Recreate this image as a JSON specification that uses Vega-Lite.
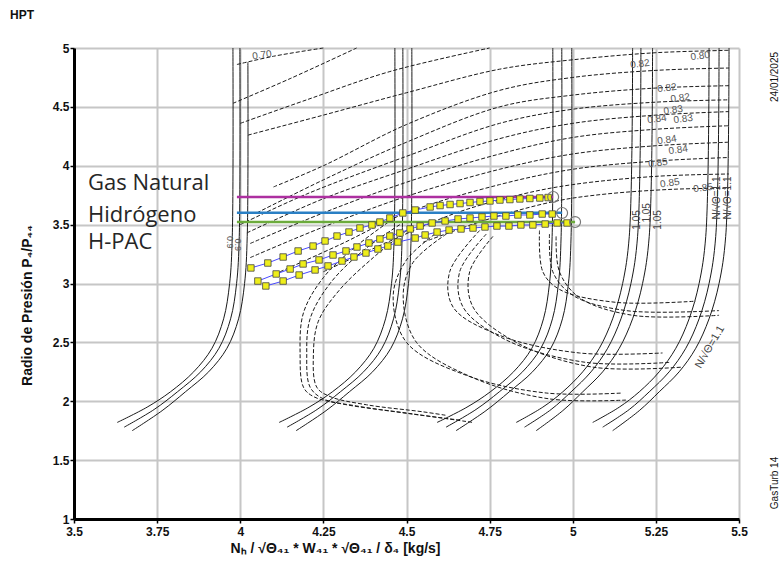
{
"$schema": "https://vega.github.io/schema/vega-lite/v6.json",
"width": 665, "height": 471,
"autosize": {"type": "none"},
"padding": {"left": 74, "top": 48, "right": 42, "bottom": 45},
"background": "white",
"title": {"text": "HPT", "anchor": "start", "frame": "group", "dx": -64, "offset": 20, "fontSize": 12, "fontWeight": "bold", "font": "Liberation Sans", "color": "#111"},
"config": {"view": {"stroke": null}, "font": "Liberation Sans"},
"datasets": {
"speed": [
{"g":"A1","x":3.978,"y":5},{"g":"A1","x":3.976,"y":3.4},{"g":"A1","x":3.968,"y":3.0},{"g":"A1","x":3.95,"y":2.7},{"g":"A1","x":3.915,"y":2.45},{"g":"A1","x":3.86,"y":2.25},{"g":"A1","x":3.79,"y":2.08},{"g":"A1","x":3.72,"y":1.95},{"g":"A1","x":3.63,"y":1.82},
{"g":"A2","x":3.999,"y":5},{"g":"A2","x":3.997,"y":3.4},{"g":"A2","x":3.989,"y":3.0},{"g":"A2","x":3.971,"y":2.7},{"g":"A2","x":3.936,"y":2.45},{"g":"A2","x":3.881,"y":2.25},{"g":"A2","x":3.811,"y":2.08},{"g":"A2","x":3.741,"y":1.93},{"g":"A2","x":3.651,"y":1.78},
{"g":"A3","x":4.023,"y":4.88},{"g":"A3","x":4.021,"y":3.4},{"g":"A3","x":4.013,"y":3.0},{"g":"A3","x":3.995,"y":2.7},{"g":"A3","x":3.96,"y":2.45},{"g":"A3","x":3.905,"y":2.25},{"g":"A3","x":3.835,"y":2.08},{"g":"A3","x":3.765,"y":1.92},{"g":"A3","x":3.675,"y":1.75},
{"g":"B1","x":4.465,"y":5},{"g":"B1","x":4.463,"y":3.4},{"g":"B1","x":4.455,"y":3.0},{"g":"B1","x":4.437,"y":2.7},{"g":"B1","x":4.402,"y":2.45},{"g":"B1","x":4.347,"y":2.25},{"g":"B1","x":4.277,"y":2.08},{"g":"B1","x":4.207,"y":1.95},{"g":"B1","x":4.117,"y":1.82},
{"g":"B2","x":4.489,"y":5},{"g":"B2","x":4.487,"y":3.4},{"g":"B2","x":4.479,"y":3.0},{"g":"B2","x":4.461,"y":2.7},{"g":"B2","x":4.426,"y":2.45},{"g":"B2","x":4.371,"y":2.25},{"g":"B2","x":4.301,"y":2.08},{"g":"B2","x":4.231,"y":1.93},{"g":"B2","x":4.141,"y":1.78},
{"g":"B3","x":4.516,"y":5},{"g":"B3","x":4.514,"y":3.4},{"g":"B3","x":4.506,"y":3.0},{"g":"B3","x":4.488,"y":2.7},{"g":"B3","x":4.453,"y":2.45},{"g":"B3","x":4.398,"y":2.25},{"g":"B3","x":4.328,"y":2.08},{"g":"B3","x":4.258,"y":1.92},{"g":"B3","x":4.168,"y":1.75},
{"g":"C1","x":4.94,"y":5},{"g":"C1","x":4.938,"y":3.4},{"g":"C1","x":4.93,"y":3.0},{"g":"C1","x":4.912,"y":2.7},{"g":"C1","x":4.877,"y":2.45},{"g":"C1","x":4.822,"y":2.25},{"g":"C1","x":4.752,"y":2.08},{"g":"C1","x":4.682,"y":1.95},{"g":"C1","x":4.592,"y":1.82},
{"g":"C2","x":4.967,"y":5},{"g":"C2","x":4.965,"y":3.4},{"g":"C2","x":4.957,"y":3.0},{"g":"C2","x":4.939,"y":2.7},{"g":"C2","x":4.904,"y":2.45},{"g":"C2","x":4.849,"y":2.25},{"g":"C2","x":4.779,"y":2.08},{"g":"C2","x":4.709,"y":1.93},{"g":"C2","x":4.619,"y":1.78},
{"g":"C3","x":4.997,"y":5},{"g":"C3","x":4.995,"y":3.4},{"g":"C3","x":4.987,"y":3.0},{"g":"C3","x":4.969,"y":2.7},{"g":"C3","x":4.934,"y":2.45},{"g":"C3","x":4.879,"y":2.25},{"g":"C3","x":4.809,"y":2.08},{"g":"C3","x":4.739,"y":1.92},{"g":"C3","x":4.649,"y":1.75},
{"g":"D1","x":5.18,"y":5},{"g":"D1","x":5.17,"y":3.4},{"g":"D1","x":5.15,"y":3.0},{"g":"D1","x":5.12,"y":2.7},{"g":"D1","x":5.08,"y":2.45},{"g":"D1","x":5.03,"y":2.25},{"g":"D1","x":4.97,"y":2.08},{"g":"D1","x":4.91,"y":1.95},{"g":"D1","x":4.83,"y":1.82},
{"g":"D2","x":5.205,"y":5},{"g":"D2","x":5.195,"y":3.4},{"g":"D2","x":5.175,"y":3.0},{"g":"D2","x":5.145,"y":2.7},{"g":"D2","x":5.105,"y":2.45},{"g":"D2","x":5.055,"y":2.25},{"g":"D2","x":4.995,"y":2.08},{"g":"D2","x":4.935,"y":1.93},{"g":"D2","x":4.855,"y":1.78},
{"g":"D3","x":5.24,"y":5},{"g":"D3","x":5.23,"y":3.4},{"g":"D3","x":5.21,"y":3.0},{"g":"D3","x":5.18,"y":2.7},{"g":"D3","x":5.14,"y":2.45},{"g":"D3","x":5.09,"y":2.25},{"g":"D3","x":5.03,"y":2.08},{"g":"D3","x":4.97,"y":1.92},{"g":"D3","x":4.89,"y":1.75},
{"g":"E1","x":5.41,"y":5},{"g":"E1","x":5.40,"y":3.4},{"g":"E1","x":5.38,"y":3.0},{"g":"E1","x":5.35,"y":2.7},{"g":"E1","x":5.31,"y":2.45},{"g":"E1","x":5.26,"y":2.25},{"g":"E1","x":5.20,"y":2.08},{"g":"E1","x":5.14,"y":1.95},{"g":"E1","x":5.06,"y":1.82},
{"g":"E2","x":5.44,"y":5},{"g":"E2","x":5.43,"y":3.4},{"g":"E2","x":5.41,"y":3.0},{"g":"E2","x":5.38,"y":2.7},{"g":"E2","x":5.34,"y":2.45},{"g":"E2","x":5.29,"y":2.25},{"g":"E2","x":5.23,"y":2.08},{"g":"E2","x":5.17,"y":1.93},{"g":"E2","x":5.09,"y":1.78},
{"g":"E3","x":5.47,"y":5},{"g":"E3","x":5.46,"y":3.4},{"g":"E3","x":5.44,"y":3.0},{"g":"E3","x":5.41,"y":2.7},{"g":"E3","x":5.37,"y":2.45},{"g":"E3","x":5.32,"y":2.25},{"g":"E3","x":5.26,"y":2.08},{"g":"E3","x":5.20,"y":1.92},{"g":"E3","x":5.12,"y":1.75}
],
"dash": [
{"g":"e1","x":3.99,"y":4.86},{"g":"e1","x":4.1,"y":4.93},{"g":"e1","x":4.25,"y":5.0},
{"g":"e2","x":3.978,"y":4.53},{"g":"e2","x":4.15,"y":4.74},{"g":"e2","x":4.35,"y":5.0},
{"g":"e3","x":4.0,"y":4.36},{"g":"e3","x":4.2,"y":4.56},{"g":"e3","x":4.45,"y":4.8},{"g":"e3","x":4.75,"y":5.0},
{"g":"e4","x":4.023,"y":4.26},{"g":"e4","x":4.25,"y":4.43},{"g":"e4","x":4.5,"y":4.62},{"g":"e4","x":4.78,"y":4.82},{"g":"e4","x":5.0,"y":4.9},{"g":"e4","x":5.25,"y":4.96},{"g":"e4","x":5.47,"y":4.98},
{"g":"e5","x":4.1,"y":3.82},{"g":"e5","x":4.25,"y":4.0},{"g":"e5","x":4.5,"y":4.35},{"g":"e5","x":4.78,"y":4.64},{"g":"e5","x":5.0,"y":4.75},{"g":"e5","x":5.25,"y":4.81},{"g":"e5","x":5.47,"y":4.83},
{"g":"e6","x":4.05,"y":3.6},{"g":"e6","x":4.25,"y":3.88},{"g":"e6","x":4.5,"y":4.2},{"g":"e6","x":4.78,"y":4.5},{"g":"e6","x":5.0,"y":4.6},{"g":"e6","x":5.25,"y":4.66},{"g":"e6","x":5.47,"y":4.68},
{"g":"e7","x":4.0,"y":3.5},{"g":"e7","x":4.2,"y":3.76},{"g":"e7","x":4.5,"y":4.08},{"g":"e7","x":4.78,"y":4.36},{"g":"e7","x":5.0,"y":4.48},{"g":"e7","x":5.25,"y":4.54},{"g":"e7","x":5.47,"y":4.56},
{"g":"e8","x":4.02,"y":3.43},{"g":"e8","x":4.25,"y":3.72},{"g":"e8","x":4.5,"y":3.97},{"g":"e8","x":4.78,"y":4.23},{"g":"e8","x":5.0,"y":4.36},{"g":"e8","x":5.25,"y":4.43},{"g":"e8","x":5.47,"y":4.46},
{"g":"e9","x":4.03,"y":3.34},{"g":"e9","x":4.25,"y":3.6},{"g":"e9","x":4.5,"y":3.86},{"g":"e9","x":4.78,"y":4.1},{"g":"e9","x":5.0,"y":4.24},{"g":"e9","x":5.25,"y":4.31},{"g":"e9","x":5.47,"y":4.34},
{"g":"e10","x":4.03,"y":3.22},{"g":"e10","x":4.25,"y":3.48},{"g":"e10","x":4.5,"y":3.74},{"g":"e10","x":4.78,"y":3.97},{"g":"e10","x":5.0,"y":4.1},{"g":"e10","x":5.25,"y":4.17},{"g":"e10","x":5.47,"y":4.2},
{"g":"e11","x":4.12,"y":3.1},{"g":"e11","x":4.3,"y":3.33},{"g":"e11","x":4.5,"y":3.6},{"g":"e11","x":4.78,"y":3.84},{"g":"e11","x":5.0,"y":3.97},{"g":"e11","x":5.25,"y":4.04},{"g":"e11","x":5.47,"y":4.07},
{"g":"e12","x":4.25,"y":3.1},{"g":"e12","x":4.45,"y":3.36},{"g":"e12","x":4.65,"y":3.6},{"g":"e12","x":4.85,"y":3.76},{"g":"e12","x":5.0,"y":3.84},{"g":"e12","x":5.25,"y":3.91},{"g":"e12","x":5.47,"y":3.93},
{"g":"e13","x":4.55,"y":3.35},{"g":"e13","x":4.75,"y":3.55},{"g":"e13","x":4.95,"y":3.7},{"g":"e13","x":5.1,"y":3.76},{"g":"e13","x":5.3,"y":3.8},{"g":"e13","x":5.47,"y":3.81},
{"g":"l1a","x":4.46,"y":3.55},{"g":"l1a","x":4.35,"y":3.32},{"g":"l1a","x":4.25,"y":3.05},{"g":"l1a","x":4.19,"y":2.75},{"g":"l1a","x":4.18,"y":2.4},{"g":"l1a","x":4.19,"y":2.12},{"g":"l1a","x":4.22,"y":2.04},{"g":"l1a","x":4.32,"y":1.97},{"g":"l1a","x":4.5,"y":1.9},{"g":"l1a","x":4.7,"y":1.82},
{"g":"l1b","x":4.48,"y":3.5},{"g":"l1b","x":4.37,"y":3.28},{"g":"l1b","x":4.27,"y":3.0},{"g":"l1b","x":4.21,"y":2.7},{"g":"l1b","x":4.2,"y":2.4},{"g":"l1b","x":4.21,"y":2.12},{"g":"l1b","x":4.25,"y":2.02},{"g":"l1b","x":4.35,"y":1.96},{"g":"l1b","x":4.52,"y":1.89},{"g":"l1b","x":4.66,"y":1.84},
{"g":"l1c","x":4.5,"y":3.45},{"g":"l1c","x":4.4,"y":3.22},{"g":"l1c","x":4.3,"y":2.95},{"g":"l1c","x":4.235,"y":2.68},{"g":"l1c","x":4.22,"y":2.4},{"g":"l1c","x":4.23,"y":2.12},{"g":"l1c","x":4.27,"y":2.04},{"g":"l1c","x":4.38,"y":1.97},{"g":"l1c","x":4.55,"y":1.91},{"g":"l1c","x":4.62,"y":1.88},
{"g":"l2a","x":4.6,"y":3.45},{"g":"l2a","x":4.5,"y":3.2},{"g":"l2a","x":4.46,"y":2.9},{"g":"l2a","x":4.5,"y":2.5},{"g":"l2a","x":4.68,"y":2.22},{"g":"l2a","x":4.92,"y":2.07},{"g":"l2a","x":5.15,"y":2.07},
{"g":"l2b","x":4.62,"y":3.42},{"g":"l2b","x":4.52,"y":3.18},{"g":"l2b","x":4.49,"y":2.9},{"g":"l2b","x":4.53,"y":2.5},{"g":"l2b","x":4.7,"y":2.2},{"g":"l2b","x":4.93,"y":2.02},{"g":"l2b","x":5.16,"y":2.01},
{"g":"l3a","x":4.72,"y":3.45},{"g":"l3a","x":4.63,"y":3.1},{"g":"l3a","x":4.64,"y":2.8},{"g":"l3a","x":4.78,"y":2.56},{"g":"l3a","x":5.02,"y":2.41},{"g":"l3a","x":5.27,"y":2.41},
{"g":"l3b","x":4.74,"y":3.42},{"g":"l3b","x":4.66,"y":3.1},{"g":"l3b","x":4.67,"y":2.8},{"g":"l3b","x":4.8,"y":2.52},{"g":"l3b","x":5.04,"y":2.33},{"g":"l3b","x":5.29,"y":2.33},
{"g":"l3c","x":4.76,"y":3.4},{"g":"l3c","x":4.69,"y":3.1},{"g":"l3c","x":4.7,"y":2.8},{"g":"l3c","x":4.83,"y":2.5},{"g":"l3c","x":5.06,"y":2.29},{"g":"l3c","x":5.33,"y":2.29},
{"g":"l4a","x":4.9,"y":3.45},{"g":"l4a","x":4.91,"y":3.1},{"g":"l4a","x":4.96,"y":2.95},{"g":"l4a","x":5.13,"y":2.84},{"g":"l4a","x":5.37,"y":2.85},
{"g":"l4b","x":4.93,"y":3.42},{"g":"l4b","x":4.94,"y":3.1},{"g":"l4b","x":5.0,"y":2.9},{"g":"l4b","x":5.16,"y":2.77},{"g":"l4b","x":5.44,"y":2.77},
{"g":"l4c","x":4.95,"y":3.4},{"g":"l4c","x":4.96,"y":3.1},{"g":"l4c","x":5.02,"y":2.88},{"g":"l4c","x":5.18,"y":2.73},{"g":"l4c","x":5.44,"y":2.73}
],
"ref": [
{"fuel":"Gas Natural","x":3.99,"y":3.735},{"fuel":"Gas Natural","x":4.941,"y":3.735},
{"fuel":"Hidrógeno","x":3.99,"y":3.6},{"fuel":"Hidrógeno","x":4.968,"y":3.6},
{"fuel":"H-PAC","x":3.99,"y":3.522},{"fuel":"H-PAC","x":5.007,"y":3.522}
],
"op": [
{"s":"A","x":4.032,"y":3.132},{"s":"A","x":4.083,"y":3.174},{"s":"A","x":4.129,"y":3.225},{"s":"A","x":4.174,"y":3.276},{"s":"A","x":4.219,"y":3.318},{"s":"A","x":4.255,"y":3.361},{"s":"A","x":4.291,"y":3.403},{"s":"A","x":4.327,"y":3.437},{"s":"A","x":4.36,"y":3.471},{"s":"A","x":4.396,"y":3.497},{"s":"A","x":4.42,"y":3.522},{"s":"A","x":4.45,"y":3.556},{"s":"A","x":4.489,"y":3.599},{"s":"A","x":4.526,"y":3.624},{"s":"A","x":4.571,"y":3.65},{"s":"A","x":4.601,"y":3.662},{"s":"A","x":4.631,"y":3.671},{"s":"A","x":4.661,"y":3.679},{"s":"A","x":4.691,"y":3.688},{"s":"A","x":4.721,"y":3.696},{"s":"A","x":4.751,"y":3.701},{"s":"A","x":4.781,"y":3.709},{"s":"A","x":4.811,"y":3.713},{"s":"A","x":4.841,"y":3.718},{"s":"A","x":4.871,"y":3.722},{"s":"A","x":4.901,"y":3.726},{"s":"A","x":4.926,"y":3.73},
{"s":"B","x":4.053,"y":3.021},{"s":"B","x":4.108,"y":3.081},{"s":"B","x":4.15,"y":3.123},{"s":"B","x":4.189,"y":3.166},{"s":"B","x":4.237,"y":3.2},{"s":"B","x":4.279,"y":3.242},{"s":"B","x":4.318,"y":3.276},{"s":"B","x":4.351,"y":3.31},{"s":"B","x":4.387,"y":3.344},{"s":"B","x":4.42,"y":3.378},{"s":"B","x":4.45,"y":3.403},{"s":"B","x":4.48,"y":3.429},{"s":"B","x":4.511,"y":3.463},{"s":"B","x":4.541,"y":3.488},{"s":"B","x":4.577,"y":3.514},{"s":"B","x":4.616,"y":3.531},{"s":"B","x":4.655,"y":3.548},{"s":"B","x":4.691,"y":3.556},{"s":"B","x":4.727,"y":3.565},{"s":"B","x":4.763,"y":3.573},{"s":"B","x":4.799,"y":3.573},{"s":"B","x":4.835,"y":3.582},{"s":"B","x":4.871,"y":3.582},{"s":"B","x":4.908,"y":3.59},{"s":"B","x":4.938,"y":3.59},
{"s":"C","x":4.077,"y":2.979},{"s":"C","x":4.129,"y":3.021},{"s":"C","x":4.177,"y":3.072},{"s":"C","x":4.225,"y":3.115},{"s":"C","x":4.264,"y":3.149},{"s":"C","x":4.306,"y":3.191},{"s":"C","x":4.342,"y":3.225},{"s":"C","x":4.378,"y":3.259},{"s":"C","x":4.414,"y":3.293},{"s":"C","x":4.444,"y":3.318},{"s":"C","x":4.474,"y":3.352},{"s":"C","x":4.526,"y":3.386},{"s":"C","x":4.556,"y":3.412},{"s":"C","x":4.592,"y":3.437},{"s":"C","x":4.628,"y":3.454},{"s":"C","x":4.664,"y":3.463},{"s":"C","x":4.7,"y":3.471},{"s":"C","x":4.736,"y":3.48},{"s":"C","x":4.772,"y":3.488},{"s":"C","x":4.808,"y":3.488},{"s":"C","x":4.844,"y":3.497},{"s":"C","x":4.88,"y":3.497},{"s":"C","x":4.917,"y":3.505},{"s":"C","x":4.953,"y":3.514},{"s":"C","x":4.983,"y":3.514}
],
"ends": [{"x":4.941,"y":3.735},{"x":4.968,"y":3.599},{"x":5.007,"y":3.522}],
"fuels": [{"t":"Gas Natural","x":3.542,"y":3.853},{"t":"Hidrógeno","x":3.542,"y":3.582},{"t":"H-PAC","x":3.542,"y":3.352}],
"eff": [
{"t":"0.70","x":4.065,"y":4.94},{"t":"0.82","x":5.202,"y":4.864},{"t":"0.80","x":5.383,"y":4.932},{"t":"0.82","x":5.283,"y":4.66},{"t":"0.82","x":5.323,"y":4.575},{"t":"0.83","x":5.302,"y":4.473},{"t":"0.84","x":5.253,"y":4.397},{"t":"0.83","x":5.332,"y":4.397},{"t":"0.84","x":5.283,"y":4.219},{"t":"0.84","x":5.317,"y":4.134},{"t":"0.85","x":5.256,"y":4.023},{"t":"0.85","x":5.292,"y":3.853},{"t":"0.85","x":5.392,"y":3.811}
],
"vlab": [
{"t":"1.05","x":5.193,"y":3.54},{"t":"1.05","x":5.223,"y":3.6},{"t":"1.05","x":5.256,"y":3.54},{"t":"N/√Θ=1.1","x":5.434,"y":3.726},{"t":"N/√Θ=1.1","x":5.467,"y":3.726}
],
"side": [{"t":"24/01/2025","x":5.608,"y":4.754},{"t":"GasTurb 14","x":5.608,"y":1.306}],
"nine": [{"t":"0.9","x":3.969,"y":3.35},{"t":"0.9","x":3.993,"y":3.33}],
"diag": [{"t":"N/√Θ=1.1","x":5.413,"y":2.46}]
},
"encoding": {
"x": {"field": "x", "type": "quantitative", "scale": {"domain": [3.5, 5.5], "nice": false, "zero": false},
 "axis": {"values": [3.5,3.75,4,4.25,4.5,4.75,5,5.25,5.5], "labelExpr": "datum.value + ''", "title": "Nₕ / √Θ₄₁ * W₄₁ * √Θ₄₁ / δ₄ [kg/s]",
  "titleX": 261, "titleY": 29, "titleBaseline": "middle", "titleFontSize": 14, "titleFontWeight": "bold", "titleColor": "#111", "titleFont": "Liberation Sans",
  "grid": true, "gridColor": "#c6c6c6", "gridWidth": 2, "domainColor": "#000", "domainWidth": 3, "tickColor": "#000", "tickSize": 4, "tickWidth": 1.5,
  "labelFlush": false, "labelFontSize": 12, "labelFontWeight": "bold", "labelColor": "#111", "labelPadding": 3}},
"y": {"field": "y", "type": "quantitative", "scale": {"domain": [1, 5], "nice": false, "zero": false},
 "axis": {"values": [1,1.5,2,2.5,3,3.5,4,4.5,5], "labelExpr": "datum.value + ''", "title": "Radio de Presión  P₄/P₄₄",
  "titleX": -47, "titleY": 257, "titleBaseline": "middle", "titleFontSize": 14, "titleFontWeight": "bold", "titleColor": "#111", "titleFont": "Liberation Sans",
  "grid": true, "gridColor": "#c6c6c6", "gridWidth": 2, "domainColor": "#000", "domainWidth": 3, "tickColor": "#000", "tickSize": 4, "tickWidth": 1.5,
  "labelFlush": false, "labelFontSize": 12, "labelFontWeight": "bold", "labelColor": "#111", "labelPadding": 1}}
},
"layer": [
{"data": {"name": "speed"}, "mark": {"type": "line", "color": "#1a1a1a", "strokeWidth": 1, "interpolate": "catmull-rom"},
 "encoding": {"detail": {"field": "g"}, "order": {"value": null}}},
{"data": {"name": "dash"}, "mark": {"type": "line", "color": "#1a1a1a", "strokeWidth": 1, "strokeDash": [4, 2], "interpolate": "catmull-rom"},
 "encoding": {"detail": {"field": "g"}, "order": {"value": null}}},
{"data": {"name": "ref"}, "mark": {"type": "line", "strokeWidth": 2.5},
 "encoding": {"color": {"field": "fuel", "type": "nominal", "scale": {"domain": ["Gas Natural","Hidrógeno","H-PAC"], "range": ["#ad2fa0","#2a7fc4","#6cab3c"]}, "legend": null}, "order": {"value": null}}},
{"data": {"name": "op"}, "mark": {"type": "line", "color": "#4a4aff", "strokeWidth": 1},
 "encoding": {"detail": {"field": "s"}, "order": {"value": null}}},
{"data": {"name": "op"}, "mark": {"type": "point", "shape": "square", "filled": true, "size": 42, "fill": "#eeee1a", "stroke": "#444", "strokeWidth": 0.8, "opacity": 1}},
{"data": {"name": "ends"}, "mark": {"type": "point", "shape": "circle", "filled": false, "size": 120, "stroke": "#777", "strokeWidth": 1.2, "opacity": 1}},
{"data": {"name": "fuels"}, "mark": {"type": "text", "align": "left", "baseline": "middle", "font": "Open Sans", "fontSize": 22, "color": "#262626"},
 "encoding": {"text": {"field": "t"}}},
{"data": {"name": "eff"}, "mark": {"type": "text", "align": "center", "baseline": "middle", "fontSize": 10, "angle": 352, "color": "#555"},
 "encoding": {"text": {"field": "t"}}},
{"data": {"name": "vlab"}, "mark": {"type": "text", "align": "center", "baseline": "middle", "fontSize": 10, "angle": 270, "color": "#444"},
 "encoding": {"text": {"field": "t"}}},
{"data": {"name": "nine"}, "mark": {"type": "text", "align": "center", "baseline": "middle", "fontSize": 9, "angle": 90, "color": "#555"},
 "encoding": {"text": {"field": "t"}}},
{"data": {"name": "diag"}, "mark": {"type": "text", "align": "center", "baseline": "middle", "fontSize": 11, "angle": 300, "color": "#444"},
 "encoding": {"text": {"field": "t"}}},
{"data": {"name": "side"}, "mark": {"type": "text", "align": "center", "baseline": "middle", "fontSize": 10, "angle": 270, "color": "#111"},
 "encoding": {"text": {"field": "t"}}}
]
}
